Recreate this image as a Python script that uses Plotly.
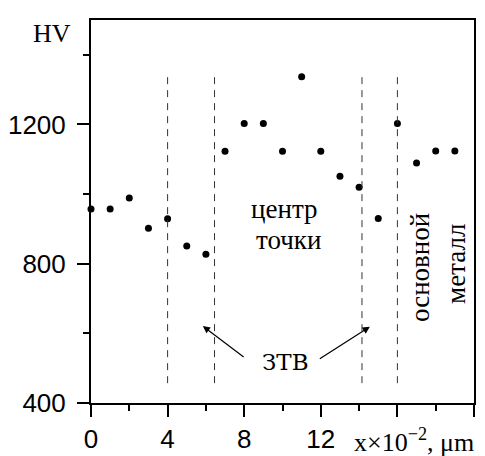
import plotly.graph_objects as go

# ---- data ----
x_pos = list(range(20))
hv = [957, 957, 989, 902, 929, 851, 827, 1123, 1203, 1203,
      1123, 1337, 1123, 1051, 1020, 930, 1203, 1089, 1124, 1124]

boundaries = [4, 6.45, 14.15, 16]
boundary_y = [457, 1350]

x_tickvals = [0, 4, 8, 12, 16, 20]
x_ticktext = ["0", "4", "8", "12", "", ""]
x_minor = [2, 6, 10, 14, 18]
y_tickvals = [400, 800, 1200]
y_ticktext = ["400", "800", "1200"]
y_minor = [600, 1000, 1400]

SERIF = "Liberation Serif, DejaVu Serif, serif"
SERIF_CAPS = "DejaVu Serif, serif"
SANS = "Liberation Sans, Arial, sans-serif"

fig = go.Figure()
fig.add_trace(go.Scatter(x=x_pos, y=hv, mode="markers",
                         marker=dict(color="black", size=7),
                         showlegend=False, cliponaxis=False))

for b in boundaries:
    fig.add_shape(type="line", xref="x", yref="y", x0=b, x1=b,
                  y0=boundary_y[0], y1=boundary_y[1],
                  line=dict(color="#333333", width=1, dash="7px,6px"))

ann_font = dict(family=SERIF, size=27, color="black")
annotations = [
    dict(x=10.13, y=958, text="центр", showarrow=False, xref="x", yref="y", font=ann_font),
    dict(x=10.3, y=868, text="точки", showarrow=False, xref="x", yref="y", font=ann_font),
    dict(x=10.18, y=519, text="ЗТВ", showarrow=False, xref="x", yref="y",
         font=dict(family=SERIF_CAPS, size=23, color="black")),
    dict(x=17.17, y=790, text="основной", textangle=-90, showarrow=False, xref="x", yref="y", font=ann_font),
    dict(x=19.02, y=800, text="металл", textangle=-90, showarrow=False, xref="x", yref="y", font=ann_font),
    # arrows
    dict(x=5.84, y=621, ax=8.05, ay=529, xref="x", yref="y", axref="x", ayref="y",
         text="", showarrow=True, arrowhead=2, arrowsize=1.2, arrowwidth=1.2, arrowcolor="black", standoff=0, startstandoff=0),
    dict(x=14.56, y=619, ax=11.87, ay=524, xref="x", yref="y", axref="x", ayref="y",
         text="", showarrow=True, arrowhead=2, arrowsize=1.2, arrowwidth=1.2, arrowcolor="black", standoff=0, startstandoff=0),
    # axis titles
    dict(x=0, y=1500, xref="x", yref="y", text="HV", showarrow=False, xanchor="right",
         yanchor="middle", xshift=-18, yshift=-13, font=dict(family=SERIF, size=26, color="black")),
    dict(x=13.62, y=0, xref="x", yref="paper", text="x×10<sup>−2</sup>, μm", showarrow=False,
         xanchor="left", yanchor="top", yshift=-19, font=dict(family=SERIF, size=26, color="black")),
]
fig.update_layout(annotations=annotations)

axis_common = dict(showline=True, linewidth=2, linecolor="black", mirror=True,
                   ticks="outside", ticklen=12, tickwidth=2, tickcolor="black",
                   showgrid=False, zeroline=False, automargin=False,
                   tickfont=dict(family=SANS, size=26, color="black"))

fig.update_xaxes(range=[0, 20], tickmode="array", tickvals=x_tickvals, ticktext=x_ticktext,
                 minor=dict(tickmode="array", tickvals=x_minor, ticks="outside", ticklen=6,
                            tickwidth=2, tickcolor="black", showgrid=False),
                 **axis_common)
fig.update_yaxes(range=[400, 1500], tickmode="array", tickvals=y_tickvals, ticktext=y_ticktext,
                 minor=dict(tickmode="array", tickvals=y_minor, ticks="outside", ticklen=6,
                            tickwidth=2, tickcolor="black", showgrid=False),
                 ticklabelstandoff=6, **axis_common)

fig.update_layout(template="none", width=485, height=456, margin=dict(l=91, r=11, t=20, b=53),
                  plot_bgcolor="white", paper_bgcolor="white")

fig.write_html("out.html")
